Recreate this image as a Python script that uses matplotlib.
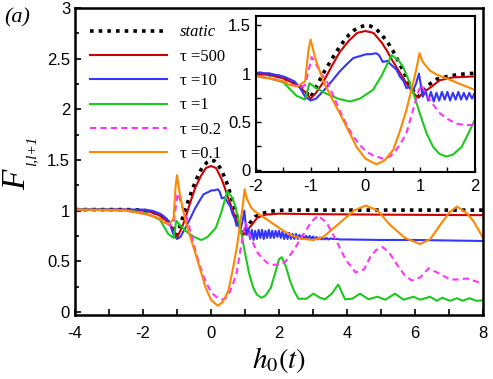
import matplotlib
matplotlib.use("Agg")
import matplotlib.pyplot as plt
from matplotlib.ticker import MultipleLocator, FormatStrFormatter

plt.rcParams['mathtext.fontset'] = 'stix'
plt.rcParams['font.family'] = 'Liberation Sans'
plt.rcParams['axes.unicode_minus'] = False

# =========================================================
# DATA
# =========================================================
x_static = [-4, -2.5, -2.0, -1.75, -1.5, -1.35, -1.2, -1.1, -1.0, -0.9, -0.75, -0.6, -0.5, -0.4,
            -0.3, -0.2, -0.1, 0.0, 0.1, 0.2, 0.3, 0.4, 0.5, 0.6, 0.7, 0.8, 0.9, 0.97, 1.05, 1.15,
            1.3, 1.5, 1.7, 1.9, 2.2, 3.0, 8.0]
y_static = [1.01, 1.01, 1.005, 0.99, 0.96, 0.92, 0.87, 0.82, 0.75, 0.86, 1.02, 1.16, 1.25, 1.33,
            1.40, 1.45, 1.48, 1.50, 1.49, 1.46, 1.40, 1.33, 1.24, 1.13, 1.02, 0.90, 0.80, 0.76, 0.82, 0.88,
            0.94, 0.97, 0.99, 1.00, 1.005, 1.005, 1.005]

x_500 = [-4, -2.5, -2.0, -1.75, -1.5, -1.35, -1.2, -1.1, -1.0, -0.9, -0.78, -0.6, -0.47, -0.3,
         -0.15, 0.0, 0.15, 0.3, 0.39, 0.5, 0.63, 0.75, 0.85, 0.94, 1.0, 1.1, 1.2, 1.36, 1.6, 2.0,
         3.0, 5.0, 8.0]
y_500 = [1.01, 1.01, 1.0, 0.985, 0.95, 0.91, 0.86, 0.81, 0.74, 0.80, 0.90, 1.09, 1.22, 1.34,
         1.42, 1.44, 1.42, 1.32, 1.24, 1.13, 1.01, 0.90, 0.82, 0.76, 0.77, 0.82, 0.86, 0.93, 0.96, 0.97,
         0.965, 0.96, 0.955]

x_10 = [-4, -2.5, -2.0, -1.75, -1.5, -1.3, -1.2, -1.1, -1.0, -0.9, -0.75, -0.6, -0.47, -0.35,
        -0.22, -0.1, 0.02, 0.1, 0.2, 0.25, 0.32, 0.4, 0.51, 0.57, 0.63, 0.7, 0.75, 0.82, 0.87, 0.93,
        0.98, 1.05, 1.10, 1.15, 1.20, 1.25, 1.30, 1.35, 1.40, 1.45, 1.50, 1.55, 1.60, 1.65, 1.70,
        1.75, 1.80, 1.85, 1.90, 1.95, 2.00, 2.05, 2.10, 2.15, 2.20, 2.25, 2.30, 2.35, 2.40, 2.45,
        2.50, 2.55, 2.60, 2.65, 2.70, 2.75, 2.80, 2.85, 2.90, 2.95, 3.00, 3.05, 3.10, 3.15, 3.20,
        3.25, 3.30, 3.35, 3.40, 3.45, 3.50, 3.60, 3.70, 3.80, 4.0, 5.0, 6.0, 7.0, 8.0]
y_10 = [1.01, 1.01, 1.01, 1.0, 0.97, 0.92, 0.86, 0.76, 0.72, 0.74, 0.83, 0.93, 1.02, 1.09,
        1.16, 1.18, 1.20, 1.20, 1.21, 1.19, 1.12, 1.13, 1.07, 1.04, 0.97, 0.92, 0.85, 0.86, 0.82, 0.90,
        1.00, 0.76, 0.82, 0.72, 0.81, 0.71, 0.80, 0.72, 0.81, 0.73, 0.81, 0.72, 0.80, 0.73, 0.81,
        0.73, 0.80, 0.73, 0.80, 0.74, 0.80, 0.73, 0.79, 0.72, 0.78, 0.72, 0.78, 0.72, 0.77, 0.72,
        0.77, 0.72, 0.76, 0.72, 0.76, 0.72, 0.75, 0.72, 0.75, 0.72, 0.745, 0.715, 0.74, 0.715, 0.735,
        0.715, 0.73, 0.715, 0.73, 0.715, 0.725, 0.72, 0.72, 0.715, 0.715, 0.71, 0.71, 0.705, 0.70]

x_1 = [-4, -2.5, -2.0, -1.75, -1.5, -1.26, -1.1, -1.02, -0.9, -0.71, -0.5, -0.28, -0.1, 0.14,
       0.3, 0.48, 0.6, 0.69, 0.8, 0.9, 1.0, 1.12, 1.24, 1.35, 1.48, 1.6, 1.76, 1.9, 2.0, 2.08,
       2.2, 2.32, 2.45, 2.57, 2.8, 3.01, 3.2, 3.35, 3.55, 3.74, 3.94, 4.15, 4.38, 4.63, 4.9, 5.12,
       5.41, 5.66, 5.95, 6.15, 6.44, 6.64, 6.8, 7.03, 7.23, 7.4, 7.6, 7.8, 8.0]
y_1 = [1.01, 1.005, 0.98, 0.95, 0.91, 0.77, 0.73, 0.90, 0.85, 0.79, 0.74, 0.71, 0.74, 0.83,
       0.98, 1.19, 1.14, 1.07, 0.92, 0.76, 0.58, 0.38, 0.24, 0.17, 0.14, 0.16, 0.24, 0.40, 0.52, 0.54,
       0.45, 0.31, 0.20, 0.13, 0.13, 0.18, 0.14, 0.125, 0.18, 0.27, 0.125, 0.13, 0.18, 0.125, 0.15, 0.12,
       0.18, 0.12, 0.15, 0.12, 0.15, 0.11, 0.14, 0.11, 0.135, 0.11, 0.135, 0.11, 0.115]

x_02 = [-4, -2.5, -2.0, -1.75, -1.44, -1.2, -1.1, -1.03, -0.98, -0.9, -0.8, -0.71, -0.6, -0.47,
        -0.35, -0.22, -0.1, 0.02, 0.15, 0.32, 0.45, 0.54, 0.65, 0.75, 0.87, 0.96, 1.02, 1.12, 1.25,
        1.36, 1.5, 1.67, 1.85, 2.05, 2.2, 2.45, 2.71, 2.95, 3.15, 3.4, 3.69, 3.95, 4.25, 4.5, 4.68,
        4.85, 5.05, 5.25, 5.46, 5.7, 5.9, 6.15, 6.4, 6.7, 7.03, 7.3, 7.52, 7.8, 8.0]
y_02 = [1.01, 1.0, 0.97, 0.95, 0.91, 0.85, 0.88, 1.05, 1.17, 1.10, 0.99, 0.93, 0.79, 0.62,
        0.48, 0.35, 0.26, 0.19, 0.15, 0.12, 0.14, 0.19, 0.28, 0.38, 0.62, 0.80, 0.88, 0.78, 0.67,
        0.59, 0.53, 0.48, 0.465, 0.47, 0.50, 0.62, 0.76, 0.89, 0.95, 0.88, 0.70, 0.52, 0.39, 0.42, 0.54,
        0.61, 0.64, 0.58, 0.47, 0.36, 0.31, 0.34, 0.43, 0.38, 0.32, 0.32, 0.33, 0.30, 0.28]

x_01 = [-4, -2.5, -2.0, -1.75, -1.5, -1.38, -1.23, -1.1, -1.04, -1.0, -0.92, -0.83, -0.75, -0.6,
        -0.47, -0.3, -0.16, 0.0, 0.2, 0.35, 0.51, 0.63, 0.75, 0.85, 0.93, 0.99, 1.05, 1.18, 1.3,
        1.48, 1.74, 2.0, 2.32, 2.7, 3.0, 3.3, 3.79, 4.2, 4.55, 4.9, 5.26, 5.7, 6.15, 6.45, 6.74,
        7.0, 7.23, 7.5, 7.71, 8.0]
y_01 = [1.01, 1.0, 0.97, 0.95, 0.92, 0.88, 0.87, 0.92, 1.24, 1.35, 1.17, 1.02, 0.90, 0.73,
        0.59, 0.40, 0.24, 0.12, 0.06, 0.10, 0.21, 0.40, 0.62, 0.85, 1.04, 1.21, 1.12, 1.03, 0.99,
        0.95, 0.89, 0.83, 0.76, 0.72, 0.71, 0.74, 0.88, 1.0, 1.05, 1.0, 0.86, 0.73, 0.67, 0.72, 0.86,
        0.98, 1.04, 0.98, 0.90, 0.73]

series = [
    (x_static, y_static, "static", "black", (0, (1, 1.4)), 2.6),
    (x_500, y_500, "τ =500", "#cc0000", "-", 1.5),
    (x_10, y_10, "τ =10", "#3535ff", "-", 1.5),
    (x_1, y_1, "τ =1", "#1ec81e", "-", 1.5),
    (x_02, y_02, "τ =0.2", "#ff33ff", (0, (3, 2)), 1.5),
    (x_01, y_01, "τ =0.1", "#ff8800", "-", 1.5),
]

# =========================================================
# MAIN PANEL
# =========================================================
fig = plt.figure(figsize=(4.93, 3.79), dpi=100)
ax = fig.add_axes([0.152, 0.169, 0.828, 0.81])

for xs, ys, lab, col, ls, lw in series:
    ax.plot(xs, ys, color=col, ls=ls, lw=lw, label=lab)

ax.set_xlim(-4, 8)
ax.set_ylim(-0.03, 3.0)
ax.xaxis.set_major_locator(MultipleLocator(2))
ax.xaxis.set_minor_locator(MultipleLocator(1))
ax.yaxis.set_major_locator(MultipleLocator(0.5))
ax.yaxis.set_minor_locator(MultipleLocator(0.25))
ax.yaxis.set_major_formatter(FormatStrFormatter("%g"))
ax.tick_params(which="both", direction="in", labelsize=12, width=1.2)
ax.tick_params(which="major", length=4.5)
ax.tick_params(axis="x", which="major", pad=8)
ax.tick_params(axis="y", which="minor", length=3)
ax.tick_params(axis="x", which="minor", length=4.5)
for s in ax.spines.values():
    s.set_linewidth(1.8)

ax.set_xlabel(r"$\mathit{h_0(t)}$", fontsize=21, labelpad=3)

# y label: big italic F with a small italic subscript
fig.text(25 / 493, 1 - 180 / 379, "F", rotation=90, rotation_mode="anchor",
         ha="center", va="baseline", fontsize=24, fontstyle="italic", family="Liberation Serif")
fig.text(35 / 493, 1 - 151 / 379, "l,l+1", rotation=90, rotation_mode="anchor",
         ha="center", va="baseline", fontsize=11, fontstyle="italic", family="Liberation Serif")

leg = ax.legend(loc="upper left", bbox_to_anchor=(0.0, 0.995), frameon=False,
                prop={"family": "Liberation Serif", "size": 12},
                handlelength=4.6, handletextpad=0.8, labelspacing=0.5)
leg.get_texts()[0].set_fontstyle("italic")

fig.text(0.008, 0.94, "(a)", fontsize=16, fontstyle="italic", family="Liberation Serif")

# =========================================================
# INSET
# =========================================================
ins = fig.add_axes([0.519, 0.546, 0.444, 0.413])
for xs, ys, lab, col, ls, lw in series:
    ins.plot(xs, ys, color=col, ls=ls, lw=lw)
ins.set_xlim(-2, 2)
ins.set_ylim(-0.02, 1.6)
ins.xaxis.set_major_locator(MultipleLocator(1))
ins.xaxis.set_minor_locator(MultipleLocator(0.5))
ins.yaxis.set_major_locator(MultipleLocator(0.5))
ins.yaxis.set_minor_locator(MultipleLocator(0.25))
ins.yaxis.set_major_formatter(FormatStrFormatter("%g"))
ins.tick_params(which="both", direction="in", labelsize=12, width=1.0, length=3.5)
ins.tick_params(axis="x", pad=5)
for s in ins.spines.values():
    s.set_linewidth(1.5)

fig.savefig("out.png", dpi=100)
